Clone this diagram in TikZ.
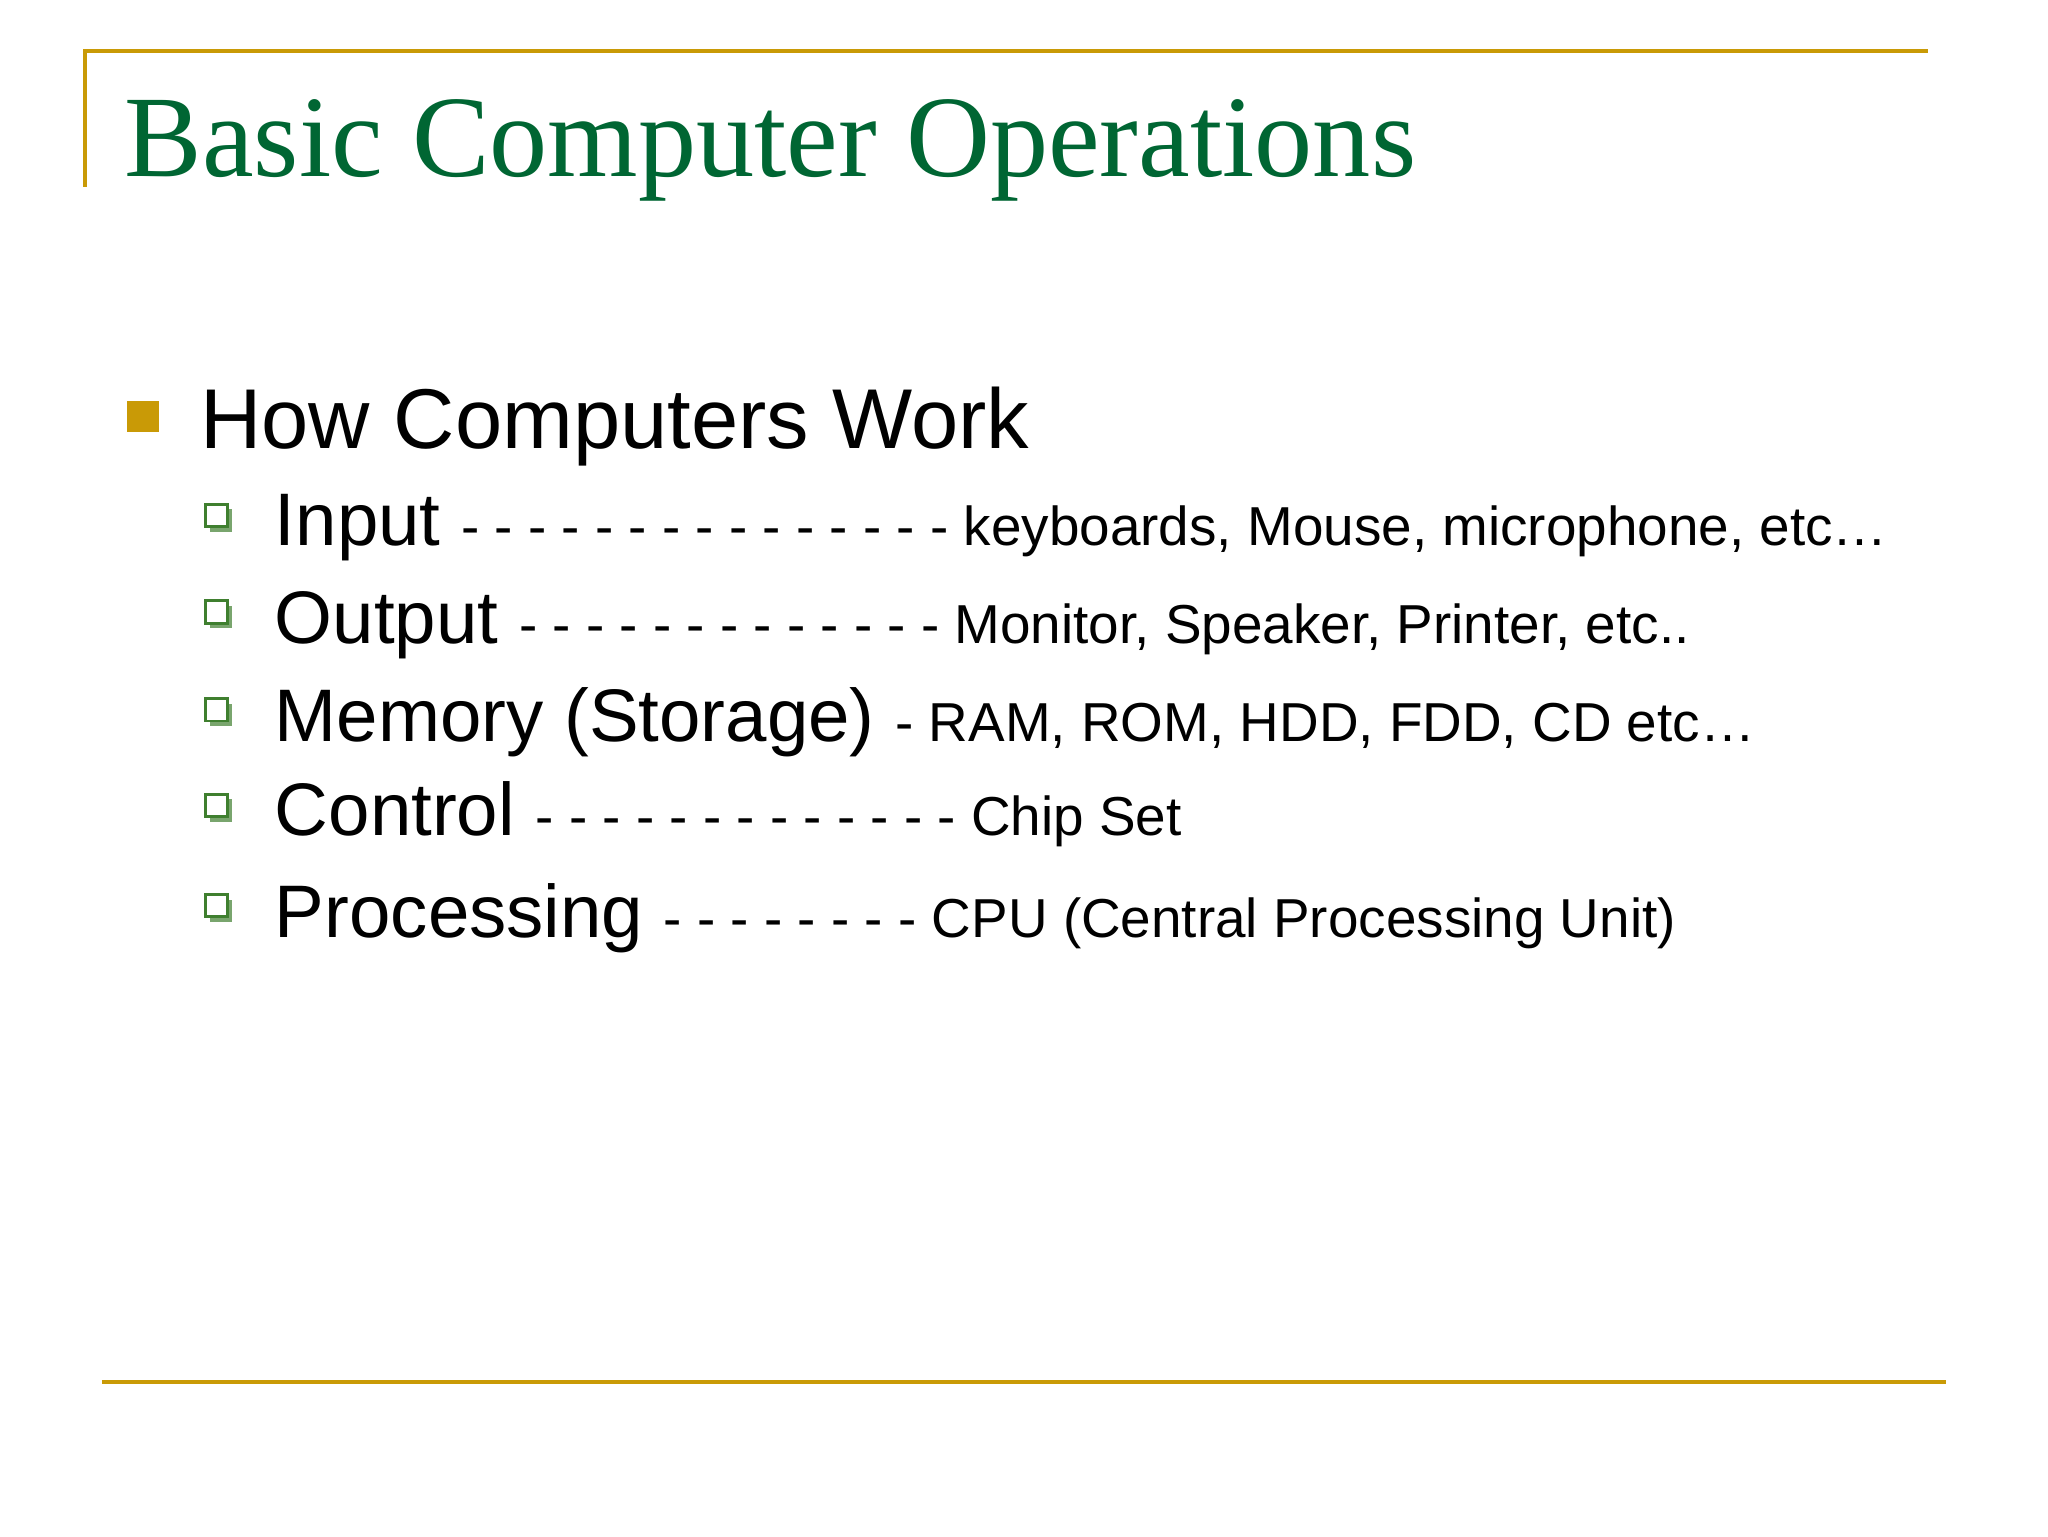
\documentclass[tikz,border=0pt]{standalone}
\usepackage{fontspec}
\setmainfont{Liberation Sans}
\newfontfamily\titlefont{Liberation Serif}
\definecolor{gold}{HTML}{C99A06}
\definecolor{tgreen}{HTML}{006633}
\definecolor{bgreen}{HTML}{3F7F2F}
\tikzset{x=0.4pt,y=-0.4pt,
 item/.style={anchor=base west,inner sep=0pt},
 gline/.style={draw=gold,line width=1.3pt}}
\newcommand{\chk}[2]{\fill[bgreen!70] (#1+4,#2+4) rectangle (#1+21,#2+21);
 \filldraw[draw=bgreen,fill=white,line width=0.9pt] (#1,#2) rectangle (#1+17,#2+17);}
\newcommand{\sm}{\fontsize{16.8}{20}\selectfont}
\newcommand{\bg}{\fontsize{22.8}{27}\selectfont}
\begin{document}
\begin{tikzpicture}
\useasboundingbox (0,0) rectangle (1568,1176);
\fill[white] (0,0) rectangle (1568,1176);
\draw[gline] (65,143) -- (65,39) -- (1476,39);
\draw[gline] (78,1058) -- (1490,1058);
\node[item,text=tgreen,font=\titlefont\fontsize{35.6}{40}\selectfont] (title) at (95,135) {Basic Computer Operations};
\fill[gold] (97,307) rectangle (122,331);
\node[item,font=\fontsize{26}{30}\selectfont] (head) at (153,343) {How Computers Work};
\chk{157}{386}
\node[item] (i1) at (210,418) {\bg Input \sm - - - - - - - - - - - - - - - keyboards, Mouse, microphone, etc…};
\chk{157}{460}
\node[item] (i2) at (210,493) {\bg Output \sm - - - - - - - - - - - - - Monitor, Speaker, Printer, etc..};
\chk{157}{535}
\node[item] (i3) at (210,568) {\bg Memory (Storage) \sm - RAM, ROM, HDD, FDD, CD etc…};
\chk{157}{608}
\node[item] (i4) at (210,640) {\bg Control \sm - - - - - - - - - - - - - Chip Set};
\chk{157}{685}
\node[item] (i5) at (210,718) {\bg Processing \sm - - - - - - - - CPU (Central Processing Unit)};
\end{tikzpicture}
\end{document}
